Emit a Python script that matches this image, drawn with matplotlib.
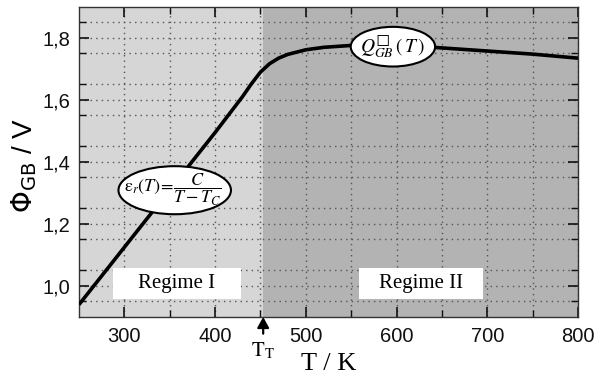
import matplotlib
matplotlib.use("Agg")
import matplotlib.pyplot as plt
from matplotlib.patches import Ellipse, Rectangle
import numpy as np

# ---- data ----
T_vals = [250, 300, 350, 400, 430, 440, 450, 460, 470, 480, 500, 520, 550, 600, 650, 700, 750, 800]
phi_vals = [0.94, 1.125, 1.31, 1.495, 1.61, 1.652, 1.69, 1.717, 1.735, 1.747, 1.762, 1.770, 1.776, 1.778, 1.768, 1.758, 1.748, 1.735]
T_T = 453
x_ticks = [300, 400, 500, 600, 700, 800]
x_ticklabels = ["300", "400", "500", "600", "700", "800"]
y_ticks = [1.0, 1.2, 1.4, 1.6, 1.8]
y_ticklabels = ["1,0", "1,2", "1,4", "1,6", "1,8"]
regime_labels = ["Regime I", "Regime II"]

W, H = 595, 379
fig = plt.figure(figsize=(W / 100, H / 100), dpi=100)
ax = fig.add_axes([79 / W, 1 - 317 / H, (578 - 79) / W, (317 - 7) / H])
ax.set_xlim(250, 800)
ax.set_ylim(0.9, 1.9)

# shaded regimes
ax.axvspan(250, T_T, color="#d6d6d6", zorder=0, lw=0)
ax.axvspan(T_T, 800, color="#b3b3b3", zorder=0, lw=0)

# ticks
ax.set_xticks(x_ticks)
ax.set_xticklabels(x_ticklabels)
ax.set_xticks(np.arange(350, 800, 100), minor=True)
ax.set_yticks(y_ticks)
ax.set_yticklabels(y_ticklabels)
ax.set_yticks(np.arange(0.95, 1.9, 0.1), minor=True)
ax.tick_params(which="both", direction="in", top=True, right=True, labelsize=14.5,
               colors="#111111")
ax.tick_params(which="major", length=7, width=1.2)
ax.tick_params(which="minor", length=5, width=1.0)
ax.tick_params(axis="x", pad=7)
ax.tick_params(axis="y", pad=6)
for lab in ax.get_xticklabels() + ax.get_yticklabels():
    lab.set_family("Liberation Sans")

ax.grid(True, which="both", linestyle=(0, (1, 3)), color="#555555", lw=1.0, zorder=1)
ax.set_axisbelow(True)
for s in ax.spines.values():
    s.set_color("#333333")
    s.set_linewidth(1.0)

# curve
ax.plot(T_vals, phi_vals, color="black", lw=2.6, zorder=3, solid_capstyle="butt")

# ellipses
e1 = Ellipse((355.5, 1.309), 124, 0.155, facecolor="white", edgecolor="black", lw=1.5, zorder=4)
ax.add_patch(e1)
ax.text(353, 1.309, r"$\mathrm{\varepsilon}_r(T)\!=\!\dfrac{C}{T - T_C}$", ha="center", va="center",
        fontsize=13, zorder=5, math_fontfamily="stix")
e2 = Ellipse((596, 1.772), 93, 0.128, facecolor="white", edgecolor="black", lw=1.5, zorder=4)
ax.add_patch(e2)
ax.text(596, 1.772, "$Q^{\u25a1}_{GB}\\,(\\,T\\,)$", ha="center", va="center",
        fontsize=14, zorder=5, math_fontfamily="stix")

# regime boxes
for (x0, w, lab) in [(287.5, 141, regime_labels[0]), (558.6, 137, regime_labels[1])]:
    ax.add_patch(Rectangle((x0, 0.958), w, 0.1, facecolor="white", edgecolor="none", zorder=4))
    ax.text(x0 + w / 2, 1.008, lab, ha="center", va="center", fontsize=15,
            family="Liberation Serif", zorder=5)

# T_T arrow
ax.annotate("", xy=(T_T, 0.9), xycoords="data", xytext=(0, -12), textcoords="offset points",
            arrowprops=dict(arrowstyle="-|>,head_length=0.45,head_width=0.25", color="black",
                            lw=1.6, mutation_scale=14, shrinkA=0, shrinkB=0),
            annotation_clip=False)
ax.annotate(r"$\mathrm{T}_\mathrm{T}$", xy=(T_T, 0.9), xycoords="data", xytext=(0, -24),
            textcoords="offset points", ha="center", va="center", fontsize=15,
            math_fontfamily="stix", annotation_clip=False)

# axis labels
ax.set_xlabel("T / K", fontsize=19, family="Liberation Serif")
ax.xaxis.set_label_coords(0.5, -0.115)
ax.set_ylabel(r"$\Phi_{\mathrm{GB}}$ / V", fontsize=20, family="Liberation Sans")
ax.yaxis.set_label_coords(-0.08, 0.49)

fig.savefig("out.png", dpi=100, facecolor="white")
